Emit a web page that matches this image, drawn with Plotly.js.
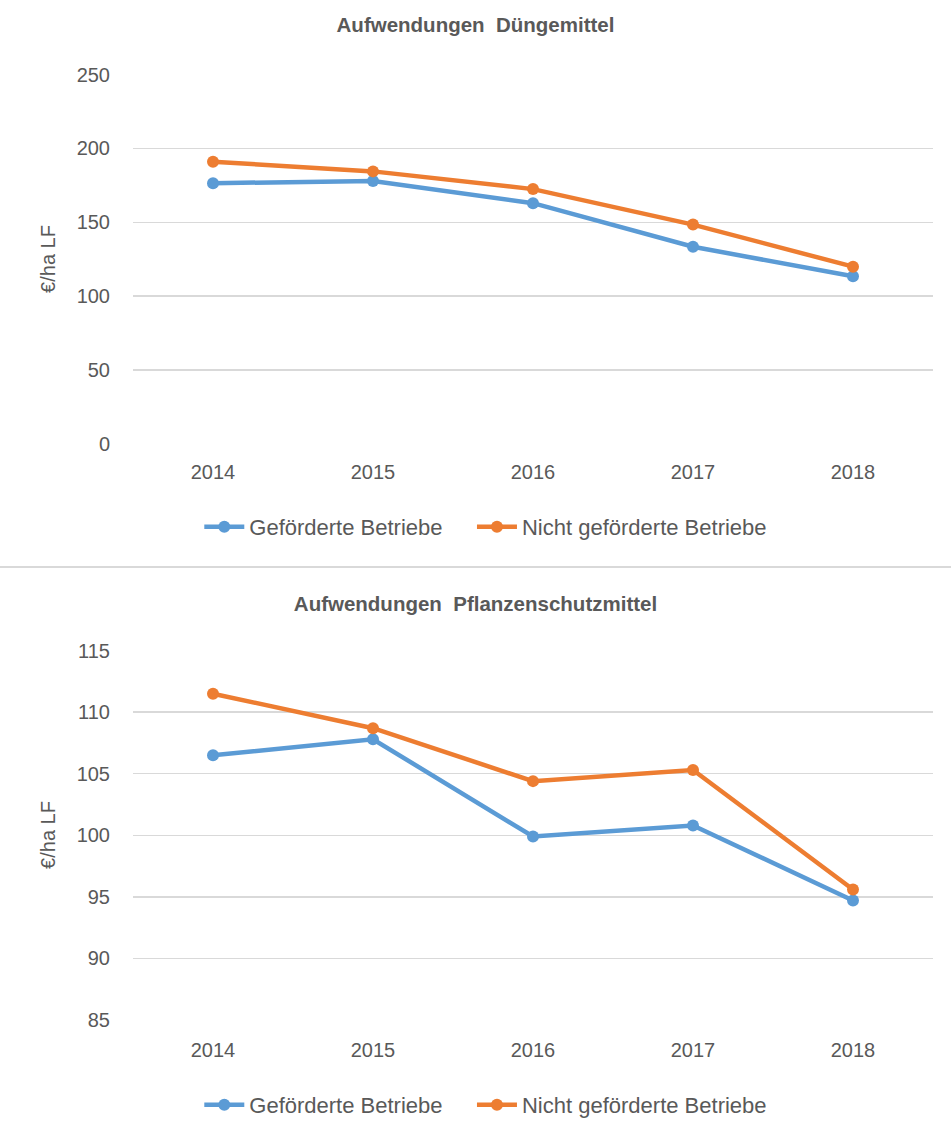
<!DOCTYPE html>
<html>
<head>
<meta charset="utf-8">
<script src="https://cdn.plot.ly/plotly-3.0.1.min.js"></script>
<style>
body{margin:0;padding:0;background:#fff;}
#c1{width:951px;height:566px;}
#sep{width:951px;height:2px;background:#d9d9d9;}
#c2{width:951px;height:572px;}
</style>
</head>
<body>
<div id="c1"></div>
<div id="sep"></div>
<div id="c2"></div>
<script>
const years = ['2014','2015','2016','2017','2018'];
const seriesNames = ['Geförderte Betriebe','Nicht geförderte Betriebe'];
const duengerGefoerdert = [176.5, 178, 163, 133.5, 113.5];
const duengerNicht = [191, 184.5, 172.5, 148.5, 120];
const psmGefoerdert = [106.5, 107.8, 99.9, 100.8, 94.7];
const psmNicht = [111.5, 108.7, 104.4, 105.3, 95.6];
const titles = ['Aufwendungen\u00a0 Düngemittel','Aufwendungen\u00a0 Pflanzenschutzmittel'];
const yTitle = '€/ha LF';

const FONT = 'Liberation Sans, Arial, sans-serif';
const GREY = '#595959';
const colors = ['#5B9BD5','#ED7D31'];
const PAD = '\u00a0\u00a0\u00a0\u00a0';

function traces(a,b){
  return [a,b].map((v,i)=>({
    x: years, y: v, type:'scatter', mode:'lines+markers', name: seriesNames[i] + (i===0?PAD:''),
    line:{color:colors[i], width:4.5}, marker:{color:colors[i], size:12}
  }));
}

function layout(title, h, titleY, range, dtick, mt, mb, legendY, xstand){
  return {
    width:951, height:h,
    margin:{l:133, r:18, t:mt, b:mb, autoexpand:false},
    paper_bgcolor:'#fff', plot_bgcolor:'#fff',
    font:{family:FONT, size:20, color:GREY},
    title:{text:'<b>'+title+'</b>', font:{family:FONT, size:20.5, color:GREY}, x:0.5, xref:'container', y:titleY, yref:'container', yanchor:'middle'},
    xaxis:{type:'category', range:[-0.5,4.5], showgrid:false, zeroline:false, showline:false, ticks:'', ticklabelstandoff:xstand, tickfont:{size:20,color:GREY}, automargin:false},
    yaxis:{range:range, dtick:dtick, showgrid:true, gridcolor:'#d9d9d9', gridwidth:1.5, zeroline:false, showline:false, ticks:'', ticklabelstandoff:22, tickfont:{size:20,color:GREY}, automargin:false,
      title:{text:yTitle, font:{size:20,color:GREY}, standoff:15}},
    showlegend:true,
    legend:{orientation:'h', x:0.441, xanchor:'center', y:legendY, yanchor:'middle', font:{size:22,color:GREY}, itemwidth:40, traceorder:'normal'}
  };
}

Plotly.newPlot('c1', traces(duengerGefoerdert, duengerNicht), layout(titles[0], 566, 1-25/566, [0,250.4], 50, 74, 122, -(527-444)/370, 14), {displayModeBar:false, staticPlot:true});
Plotly.newPlot('c2', traces(psmGefoerdert, psmNicht), layout(titles[1], 572, 1-36/572, [85,115.05], 5, 82, 120, -(537-452)/370, 16), {displayModeBar:false, staticPlot:true});
</script>
</body>
</html>
